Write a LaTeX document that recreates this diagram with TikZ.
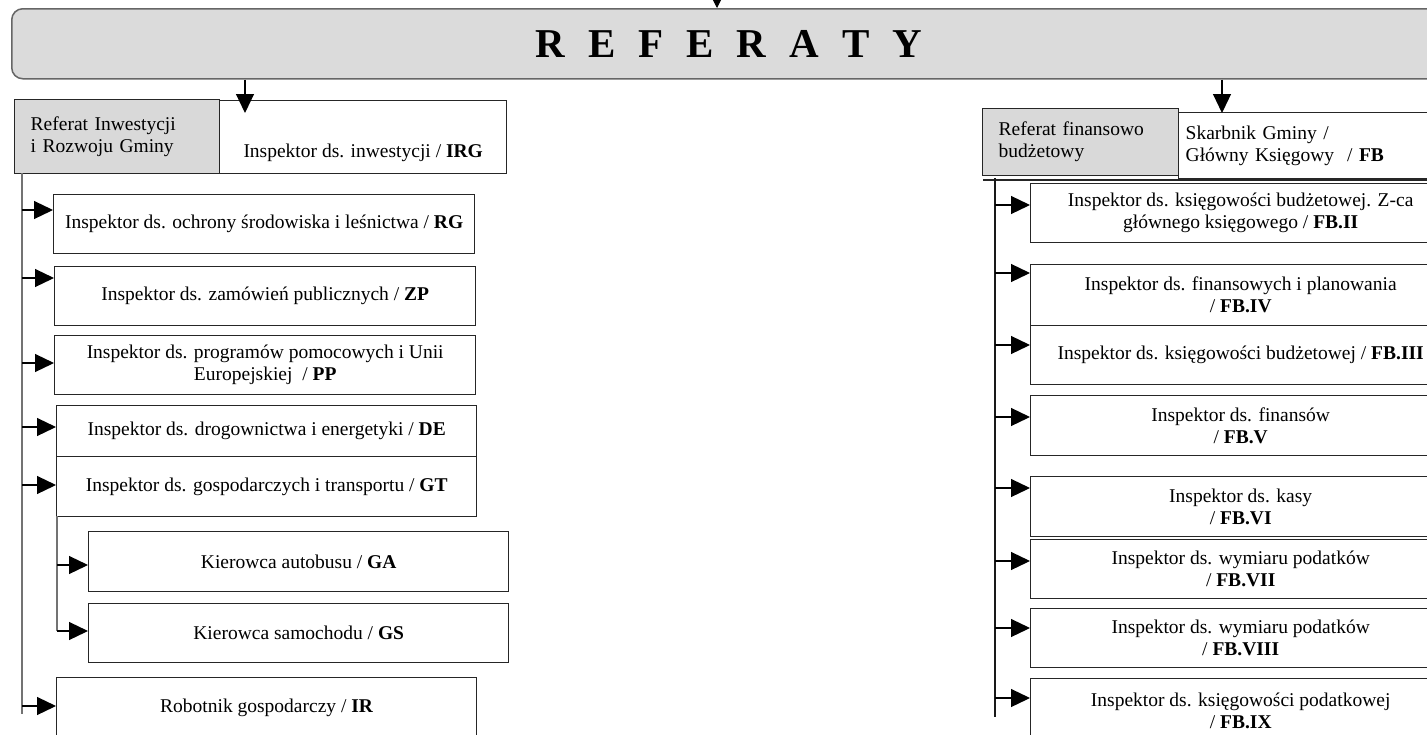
\documentclass[tikz,border=0pt]{standalone}
\usepackage{fontspec}
\setmainfont{Liberation Serif}
\usetikzlibrary{arrows.meta}
\begin{document}
\begin{tikzpicture}[x=1pt,y=-1pt,
  every node/.style={font=\fontsize{19.5}{22}\selectfont, inner sep=0pt},
  box/.style={draw=black!85, line width=1.4pt, fill=white, align=center, anchor=north west},
  gbox/.style={draw=black!85, line width=1.4pt, fill=black!15, align=left, anchor=north west},
  arr/.style={line width=1.2pt, -{Triangle[length=19pt,width=18pt]}},
  darr/.style={line width=1.2pt, -{Triangle[length=19pt,width=18pt]}},
  trunk/.style={line width=1.1pt, black!55},
  rtrunk/.style={line width=1.3pt, black!90}
]
\useasboundingbox (0,0) rectangle (1427,734);
\clip (0,0) rectangle (1427,734);

% title
\node[draw=black!60, line width=1.5pt, fill=black!14, rounded corners=11pt,
      minimum width=1434pt, minimum height=70pt, anchor=north west,
      font=\fontsize{41}{44}\selectfont\bfseries] (title) at (11,8)
  {R\hskip23pt E\hskip23pt F\hskip23pt E\hskip23pt R\hskip23pt A\hskip23pt T\hskip23pt Y};
\coordinate (topin) at (717,-6);
\draw[line width=1pt, -{Triangle[length=10pt,width=10pt]}] (topin) -- (topin |- title.north);

% ---------------- left group
\node[gbox, minimum height=74pt, text width=173pt, inner xsep=16pt] (hdrL) at (14,99)
  {Referat Inwestycji\\i Rozwoju Gminy};
\node[box, minimum width=287pt, text height=57pt, text depth=16pt] (irg) at (219,100)
  {Inspektor ds. inwestycji / \textbf{IRG}};
\coordinate (dL) at (245,113);
\draw[darr] (title.south -| dL) -- (dL);

\node[box, minimum width=421pt, minimum height=59pt] (rg) at (53,194)
  {Inspektor ds. ochrony środowiska i leśnictwa / \textbf{RG}};
\node[box, minimum width=421pt, minimum height=59pt] (zp) at (54,266)
  {Inspektor ds. zamówień publicznych / \textbf{ZP}};
\node[box, minimum width=421pt, minimum height=59pt] (pp) at (54,335)
  {Inspektor ds. programów pomocowych i Unii\\Europejskiej \ / \textbf{PP}};
\node[box, minimum width=420pt, minimum height=51pt] (de) at (56,405)
  {Inspektor ds. drogownictwa i energetyki / \textbf{DE}};
\node[box, minimum width=420pt, minimum height=60pt] (gt) at (56,456)
  {Inspektor ds. gospodarczych i transportu / \textbf{GT}};
\node[box, minimum width=420pt, minimum height=60pt] (ga) at (88,531)
  {Kierowca autobusu / \textbf{GA}};
\node[box, minimum width=420pt, minimum height=59pt] (gs) at (88,603)
  {Kierowca samochodu / \textbf{GS}};
\node[box, minimum width=420pt, minimum height=60pt] (ir) at (56,677)
  {Robotnik gospodarczy / \textbf{IR}};

\coordinate (tL0) at (22,173);
\coordinate (tL1) at (22,714);
\draw[trunk] (tL0) -- (tL1);
\coordinate (sT0) at (57,516);
\coordinate (sT1) at (57,631);
\draw[trunk] (sT0) -- (sT1);

\coordinate (aRG) at (22,210);
\coordinate (aZP) at (22,278);
\coordinate (aPP) at (22,363);
\coordinate (aDE) at (22,427);
\coordinate (aGT) at (22,485);
\coordinate (aIR) at (22,706);
\coordinate (aGA) at (57,565);
\coordinate (aGS) at (57,631);
\draw[arr] (aRG) -- (aRG -| rg.west);
\draw[arr] (aZP) -- (aZP -| zp.west);
\draw[arr] (aPP) -- (aPP -| pp.west);
\draw[arr] (aDE) -- (aDE -| de.west);
\draw[arr] (aGT) -- (aGT -| gt.west);
\draw[arr] (aIR) -- (aIR -| ir.west);
\draw[arr] (aGA) -- (aGA -| ga.west);
\draw[arr] (aGS) -- (aGS -| gs.west);

% ---------------- right group
\node[gbox, minimum height=67pt, text width=164pt, inner xsep=16pt] (hdrR) at (982,108)
  {Referat finansowo\\budżetowy};
\node[box, align=left, minimum height=66pt, text width=258pt, inner xsep=7pt] (fb) at (1178,112)
  {Skarbnik Gminy /\\Główny Księgowy \ / \textbf{FB}};
\coordinate (dR) at (1222,113);
\draw[darr] (title.south -| dR) -- (dR);
\coordinate (rl0) at (983,180);
\coordinate (rl1) at (1450,180);
\draw[line width=1.2pt, black!85] (rl0) -- (rl1);

\node[box, minimum width=420pt, minimum height=59pt] (fb2) at (1030,183)
  {Inspektor ds. księgowości budżetowej. Z-ca\\głównego księgowego / \textbf{FB.II}};
\node[box, minimum width=420pt, minimum height=61pt] (fb4) at (1030,264)
  {Inspektor ds. finansowych i planowania\\/ \textbf{FB.IV}};
\node[box, minimum width=420pt, minimum height=59pt] (fb3) at (1030,325)
  {Inspektor ds. księgowości budżetowej / \textbf{FB.III}};
\node[box, minimum width=420pt, minimum height=60pt] (fb5) at (1030,395)
  {Inspektor ds. finansów\\/ \textbf{FB.V}};
\node[box, minimum width=420pt, minimum height=60pt] (fb6) at (1030,476)
  {Inspektor ds. kasy\\/ \textbf{FB.VI}};
\node[box, minimum width=420pt, minimum height=59pt] (fb7) at (1030,539)
  {Inspektor ds. wymiaru podatków\\/ \textbf{FB.VII}};
\node[box, minimum width=420pt, minimum height=59pt] (fb8) at (1030,608)
  {Inspektor ds. wymiaru podatków\\/ \textbf{FB.VIII}};
\node[box, minimum width=420pt, minimum height=64pt] (fb9) at (1030,678)
  {Inspektor ds. księgowości podatkowej\\/ \textbf{FB.IX}};

\coordinate (tR0) at (995,178);
\coordinate (tR1) at (995,717);
\draw[rtrunk] (tR0) -- (tR1);

\coordinate (b2) at (995,205);
\coordinate (b4) at (995,273);
\coordinate (b3) at (995,345);
\coordinate (b5) at (995,417);
\coordinate (b6) at (995,488);
\coordinate (b7) at (995,561);
\coordinate (b8) at (995,628);
\coordinate (b9) at (995,698);
\draw[arr] (b2) -- (b2 -| fb2.west);
\draw[arr] (b4) -- (b4 -| fb4.west);
\draw[arr] (b3) -- (b3 -| fb3.west);
\draw[arr] (b5) -- (b5 -| fb5.west);
\draw[arr] (b6) -- (b6 -| fb6.west);
\draw[arr] (b7) -- (b7 -| fb7.west);
\draw[arr] (b8) -- (b8 -| fb8.west);
\draw[arr] (b9) -- (b9 -| fb9.west);
\end{tikzpicture}
\end{document}
